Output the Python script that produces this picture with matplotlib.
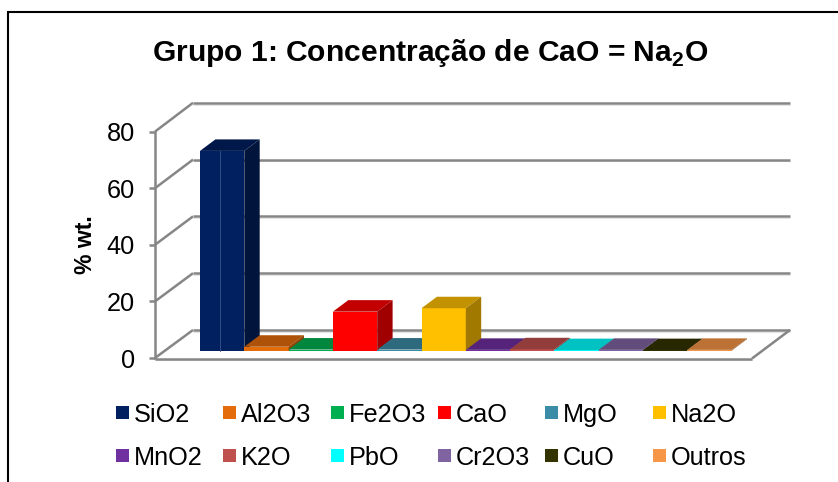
import matplotlib
matplotlib.use('Agg')
import matplotlib.pyplot as plt
from matplotlib.colors import to_rgb
from matplotlib.patches import Polygon, Rectangle
from matplotlib.transforms import Affine2D

# Data
categories = ['SiO2', 'Al2O3', 'Fe2O3', 'CaO', 'MgO', 'Na2O',
              'MnO2', 'K2O', 'PbO', 'Cr2O3', 'CuO', 'Outros']
values = [70.6, 1.4, 0.4, 13.8, 0.4, 15.0, 0.3, 0.5, 0.2, 0.3, 0.2, 0.3]
colors = ['#002060', '#E46C0A', '#00B050', '#FF0000', '#3B8CA6', '#FFC000',
          '#7030A0', '#C0504D', '#00FFFF', '#8064A2', '#333300', '#F79646']
y_ticks = [0, 20, 40, 60, 80]

W, H = 838, 482
GREY = '#868686'
FONT = 'Liberation Sans'

plt.rcParams['mathtext.fontset'] = 'custom'
plt.rcParams['mathtext.bf'] = 'Liberation Sans:bold'

fig = plt.figure(figsize=(W / 100, H / 100), dpi=100)
ax = fig.add_axes([0, 0, 1, 1])

# one x unit is one bar, one y unit is one percent, zero sits on the bar base
BAR_PX = 44.3
UNIT_PX = 2.83
ax.set_xlim(-200 / BAR_PX, (W - 200) / BAR_PX)
ax.set_ylim((350.7 - H) / UNIT_PX, 350.7 / UNIT_PX)
ax.axis('off')

# chart furniture is placed in pixels from the top left corner
px = Affine2D().scale(1, -1).translate(0, H)


def line(xs, ys, **kw):
    kw.setdefault('color', GREY)
    kw.setdefault('lw', 1.8)
    ax.plot(xs, ys, transform=px, solid_capstyle='butt', clip_on=False, **kw)


def shade(c, f):
    return tuple(v * f for v in to_rgb(c))


# outer frame: only the top and left edges are inside the picture
line([7.5, 7.5], [12, H], color='black', lw=1.5)
line([7, W], [12, 12], color='black', lw=1.5)

# walls and floor
for t in y_ticks:
    yf = 358 - t * 2.83
    yb = 330 - t * 2.84
    if t > 0:
        line([193, 790], [yb + 1.8, yb + 1.8], color='#E4E4E4', lw=0.8)
        line([193, 790], [yb, yb])
        line([155, 193], [yf, yb])
    line([149, 155], [yf, yf])
line([155, 155], [131, 359])
line([155, 193], [358, 330])
line([193, 790], [331.8, 331.8], color='#E4E4E4', lw=0.8)
line([193, 790], [330, 330])
line([155, 752], [360.3, 360.3], color='#E4E4E4', lw=0.8)
line([155, 752], [358.5, 358.5])
line([752, 790], [358.5, 330])

# bars, left to right so each one overlaps the side of the one before it
dx = 15.4 / BAR_PX
dy = 11.5 / UNIT_PX
for i, (v, c) in enumerate(zip(values, colors)):
    z = 3 + i
    ax.add_patch(Rectangle((i, 0), 1, v, fc=c, lw=0, zorder=z))
    top = [(i, v), (i + 1, v), (i + 1 + dx, v + dy), (i + dx, v + dy)]
    side = [(i + 1, 0), (i + 1 + dx, dy), (i + 1 + dx, v + dy), (i + 1, v)]
    ax.add_patch(Polygon(top, fc=shade(c, 0.76), lw=0, zorder=z))
    ax.add_patch(Polygon(side, fc=shade(c, 0.63), lw=0, zorder=z))
ax.plot([0.45, 0.45], [0, values[0]], color='#3A5488', lw=0.6, zorder=20)

# tick labels and titles
for t in y_ticks:
    ax.text(135, 358 - t * 2.83, str(t), transform=px, ha='right',
            va='center_baseline', family=FONT, fontsize=18.2)
ax.text(85, 245, '% wt.', transform=px, rotation=90, ha='center', va='center',
        family=FONT, fontsize=16.6, fontweight='bold')
ax.text(430, 53, r'Grupo 1: Concentração de CaO = Na$_{\mathbf{2}}$O', transform=px,
        ha='center', va='center', family=FONT, fontsize=21.6, fontweight='bold',
        math_fontfamily='custom')

# legend, two rows of six
col_x = [116, 223, 331, 438, 545, 653]
row_y = [406, 449]
for i, (name, c) in enumerate(zip(categories, colors)):
    x = col_x[i % 6]
    y = row_y[i // 6]
    ax.add_patch(Rectangle((x, y), 13, 13, transform=px, fc=c, lw=0, clip_on=False))
    ax.text(x + 18, y + 6.5, name, transform=px, ha='left', va='center_baseline',
            family=FONT, fontsize=18.2)

fig.savefig('out.png', dpi=100)
